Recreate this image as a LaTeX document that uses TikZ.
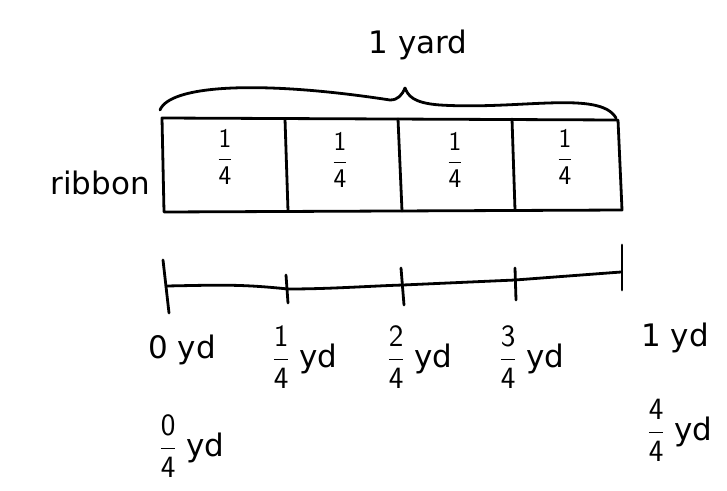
\documentclass[tikz,border=0pt]{standalone}
\usepackage{fontspec}
\usepackage{unicode-math}
\setmainfont{DejaVu Sans}
\setmathfont{Latin Modern Math}
\newcommand{\fr}[2]{\ensuremath{\dfrac{\mathsf{#1}}{\mathsf{#2}}}}
\begin{document}
\begin{tikzpicture}[x=1pt,y=-1pt,
  ink/.style={line width=2.8pt,line cap=round,line join=round,black},
  lbl/.style={inner sep=0pt,font=\fontsize{31}{34}\selectfont},
  frc/.style={inner sep=0pt,font=\fontsize{27}{30}\selectfont}]
\useasboundingbox[fill=white] (0,0) rectangle (727,490);
% title and brace
\node[lbl] (title) at (418,45) {1 yard};
\coordinate (bl) at (160,110);
\coordinate (br) at (616,118);
\coordinate (bm) at (405,88);
\draw[ink] (bl) .. controls (170,85) and (260,80) .. (390,100) .. controls (398,100) and (402,95) .. (bm)
  .. controls (408,95) and (412,103) .. (440,105) .. controls (520,110) and (600,90) .. (br);
% ribbon bar
\coordinate (r1) at (162,118);
\coordinate (r2) at (618,120);
\coordinate (r3) at (622,210);
\coordinate (r4) at (164,212);
\draw[ink] (r1) -- (r2) -- (r3) -- (r4) -- cycle;
\coordinate (d1t) at (285,119); \coordinate (d1b) at (288,211);
\coordinate (d2t) at (398,119); \coordinate (d2b) at (402,211);
\coordinate (d3t) at (512,119); \coordinate (d3b) at (515,210);
\draw[ink] (d1t) -- (d1b);
\draw[ink] (d2t) -- (d2b);
\draw[ink] (d3t) -- (d3b);
\node[frc] (f1) at (225,157) {\fr{1}{4}};
\node[frc] (f2) at (340,160) {\fr{1}{4}};
\node[frc] (f3) at (455,160) {\fr{1}{4}};
\node[frc] (f4) at (565,157) {\fr{1}{4}};
\node[lbl,anchor=east] (rib) at (150,183) {ribbon};
% number line
\coordinate (n0) at (166,286);
\coordinate (n1) at (288,289);
\coordinate (n2) at (403,285);
\coordinate (n3) at (515,280);
\coordinate (n4) at (621,272);
\draw[ink] (n0) .. controls (220,285) and (240,284) .. (n1) .. controls (330,289) and (370,286) .. (n2) -- (n3) -- (n4);
\draw[ink] (163,260) -- (169,313);
\draw[ink] (286,275) -- (288,303);
\draw[ink] (401,268) -- (404,305);
\draw[ink] (515,268) -- (516,300);
\draw[ink] (622,245) -- (622,290);
% labels
\node[lbl] (l0) at (182,350) {0 yd};
\node[lbl] (l1) at (305,357) {\fr{1}{4} yd};
\node[lbl] (l2) at (420,357) {\fr{2}{4} yd};
\node[lbl] (l3) at (532,357) {\fr{3}{4} yd};
\node[lbl] (l4) at (675,338) {1 yd};
\node[lbl] (l5) at (192,446) {\fr{0}{4} yd};
\node[lbl] (l6) at (680,430) {\fr{4}{4} yd};
\end{tikzpicture}
\end{document}
